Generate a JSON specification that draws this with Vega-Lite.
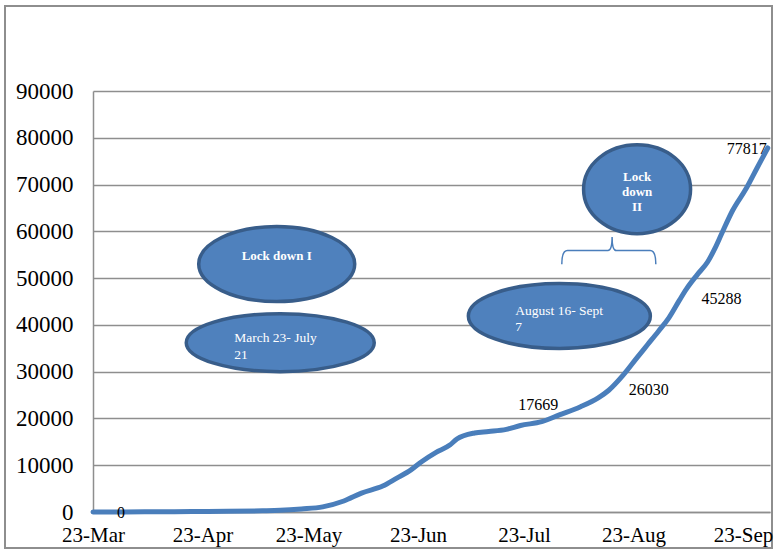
{
  "$schema": "https://vega.github.io/schema/vega-lite/v6.json",
  "autosize": {"type": "none"},
  "padding": {"left": 5, "top": 6, "right": 3, "bottom": 2},
  "width": 767,
  "height": 542,
  "background": "#ffffff",
  "config": {
    "view": {"stroke": "#8e8e8e", "strokeWidth": 2},
    "text": {"font": "Liberation Serif"}
  },
  "datasets": {
    "cases": [
      {"date": "2020-03-23", "value": 0},
      {"date": "2020-04-01", "value": 20},
      {"date": "2020-04-10", "value": 60},
      {"date": "2020-04-20", "value": 100},
      {"date": "2020-04-30", "value": 150},
      {"date": "2020-05-10", "value": 250},
      {"date": "2020-05-15", "value": 350},
      {"date": "2020-05-21", "value": 650},
      {"date": "2020-05-27", "value": 1100},
      {"date": "2020-06-02", "value": 2350},
      {"date": "2020-06-07", "value": 4050},
      {"date": "2020-06-13", "value": 5550},
      {"date": "2020-06-17", "value": 7250},
      {"date": "2020-06-21", "value": 9000},
      {"date": "2020-06-24", "value": 10750},
      {"date": "2020-06-28", "value": 12700},
      {"date": "2020-07-02", "value": 14300},
      {"date": "2020-07-04", "value": 15600},
      {"date": "2020-07-09", "value": 16900},
      {"date": "2020-07-13", "value": 17200},
      {"date": "2020-07-18", "value": 17669},
      {"date": "2020-07-22", "value": 18500},
      {"date": "2020-07-28", "value": 19300},
      {"date": "2020-08-02", "value": 20750},
      {"date": "2020-08-08", "value": 22500},
      {"date": "2020-08-13", "value": 24400},
      {"date": "2020-08-16", "value": 26030},
      {"date": "2020-08-20", "value": 29200},
      {"date": "2020-08-24", "value": 33000},
      {"date": "2020-08-27", "value": 35800},
      {"date": "2020-08-30", "value": 38600},
      {"date": "2020-09-02", "value": 41500},
      {"date": "2020-09-05", "value": 45288},
      {"date": "2020-09-07", "value": 47700},
      {"date": "2020-09-10", "value": 50700},
      {"date": "2020-09-13", "value": 53500},
      {"date": "2020-09-15", "value": 56300},
      {"date": "2020-09-17", "value": 59600},
      {"date": "2020-09-20", "value": 64400},
      {"date": "2020-09-24", "value": 69300},
      {"date": "2020-09-27", "value": 73600},
      {"date": "2020-09-30", "value": 77817}
    ],
    "notes": [
      {"id": "lock1", "date": "2020-05-14", "value": 53000, "text": "Lock down I"},
      {"id": "period1", "date": "2020-05-15", "value": 36200, "text": "March 23- July\n21"},
      {"id": "lock2", "date": "2020-08-24", "value": 69000, "text": "Lock\ndown\nII"},
      {"id": "period2", "date": "2020-08-02", "value": 41900, "text": "August 16- Sept\n7"},
      {"id": "brace", "date": "2020-08-16", "value": 55900, "text": ""}
    ]
  },
  "encoding": {
    "x": {
      "field": "date",
      "type": "temporal",
      "scale": {
        "type": "utc",
        "domain": [
          {"year": 2020, "month": 3, "date": 23, "utc": true},
          {"year": 2020, "month": 9, "date": 30, "hours": 15, "utc": true}
        ],
        "range": [88, 765]
      },
      "axis": {
        "title": null,
        "offset": -36,
        "grid": false,
        "ticks": false,
        "domainColor": "#8e8e8e",
        "domainWidth": 1.5,
        "format": "%d-%b",
        "values": [
          {"year": 2020, "month": 3, "date": 23, "utc": true},
          {"year": 2020, "month": 4, "date": 23, "utc": true},
          {"year": 2020, "month": 5, "date": 23, "utc": true},
          {"year": 2020, "month": 6, "date": 23, "utc": true},
          {"year": 2020, "month": 7, "date": 23, "utc": true},
          {"year": 2020, "month": 8, "date": 23, "utc": true},
          {"year": 2020, "month": 9, "date": 23, "utc": true}
        ],
        "labelFont": "Liberation Serif",
        "labelFontSize": 21,
        "labelColor": "#000000",
        "labelPadding": 12,
        "labelOverlap": false,
        "labelFlush": false
      }
    },
    "y": {
      "field": "value",
      "type": "quantitative",
      "scale": {"domain": [0, 90000], "range": [506, 85], "nice": false, "zero": true},
      "axis": {
        "title": null,
        "offset": -88,
        "values": [0, 10000, 20000, 30000, 40000, 50000, 60000, 70000, 80000, 90000],
        "format": "d",
        "grid": true,
        "gridColor": "#8e8e8e",
        "gridWidth": 1.5,
        "ticks": false,
        "domainColor": "#8e8e8e",
        "domainWidth": 1.5,
        "labelFont": "Liberation Serif",
        "labelFontSize": 23,
        "labelColor": "#000000",
        "labelPadding": 20,
        "labelFlush": false
      }
    }
  },
  "layer": [
    {
      "data": {"name": "cases"},
      "mark": {"type": "line", "color": "#4A7EBB", "strokeWidth": 5, "interpolate": "monotone", "strokeCap": "round", "strokeJoin": "round", "clip": false}
    },
    {
      "data": {"name": "notes"},
      "transform": [{"filter": "datum.id === 'lock1'"}],
      "mark": {"type": "point", "shape": "M -1 0 C -1 -0.2657 -0.5523 -0.481 0 -0.481 C 0.5523 -0.481 1 -0.2657 1 0 C 1 0.2657 0.5523 0.481 0 0.481 C -0.5523 0.481 -1 0.2657 -1 0 Z", "size": 24336, "filled": true, "color": "#4F81BD", "stroke": "#385D8A", "strokeWidth": 3.5, "opacity": 1}
    },
    {
      "data": {"name": "notes"},
      "transform": [{"filter": "datum.id === 'period1'"}],
      "mark": {"type": "point", "shape": "M -1 0 C -1 -0.1704 -0.5523 -0.3085 0 -0.3085 C 0.5523 -0.3085 1 -0.1704 1 0 C 1 0.1704 0.5523 0.3085 0 0.3085 C -0.5523 0.3085 -1 0.1704 -1 0 Z", "size": 35344, "filled": true, "color": "#4F81BD", "stroke": "#385D8A", "strokeWidth": 3.5, "opacity": 1}
    },
    {
      "data": {"name": "notes"},
      "transform": [{"filter": "datum.id === 'lock2'"}],
      "mark": {"type": "point", "shape": "M -1 0 C -1 -0.4595 -0.5523 -0.832 0 -0.832 C 0.5523 -0.832 1 -0.4595 1 0 C 1 0.4595 0.5523 0.832 0 0.832 C -0.5523 0.832 -1 0.4595 -1 0 Z", "size": 11449, "filled": true, "color": "#4F81BD", "stroke": "#385D8A", "strokeWidth": 3.5, "opacity": 1}
    },
    {
      "data": {"name": "notes"},
      "transform": [{"filter": "datum.id === 'period2'"}],
      "mark": {"type": "point", "shape": "M -1 0 C -1 -0.1972 -0.5523 -0.357 0 -0.357 C 0.5523 -0.357 1 -0.1972 1 0 C 1 0.1972 0.5523 0.357 0 0.357 C -0.5523 0.357 -1 0.1972 -1 0 Z", "size": 33124, "filled": true, "color": "#4F81BD", "stroke": "#385D8A", "strokeWidth": 3.5, "opacity": 1}
    },
    {
      "data": {"name": "notes"},
      "transform": [{"filter": "datum.id === 'brace'"}],
      "mark": {"type": "point", "shape": "M -1 0.29 Q -1 0 -0.88 0 L -0.02 0 Q 0.07 0 0.07 -0.29 Q 0.07 0 0.16 0 L 0.88 0 Q 1 0 1 0.29", "size": 8836, "filled": false, "stroke": "#4A7EBB", "strokeWidth": 1.5, "opacity": 1}
    },
    {
      "data": {"name": "notes"},
      "transform": [{"filter": "datum.id === 'lock1'"}],
      "mark": {"type": "text", "fontSize": 13, "fontWeight": "bold", "color": "#ffffff", "align": "center", "baseline": "middle", "dy": -8},
      "encoding": {"text": {"field": "text"}}
    },
    {
      "data": {"name": "notes"},
      "transform": [{"filter": "datum.id === 'period1'"}],
      "mark": {"type": "text", "fontSize": 13.5, "color": "#ffffff", "align": "left", "baseline": "middle", "dx": -46, "dy": -4.5, "lineBreak": "\n", "lineHeight": 16.5},
      "encoding": {"text": {"field": "text"}}
    },
    {
      "data": {"name": "notes"},
      "transform": [{"filter": "datum.id === 'lock2'"}],
      "mark": {"type": "text", "fontSize": 13, "fontWeight": "bold", "color": "#ffffff", "align": "center", "baseline": "middle", "dy": -12, "lineBreak": "\n", "lineHeight": 15},
      "encoding": {"text": {"field": "text"}}
    },
    {
      "data": {"name": "notes"},
      "transform": [{"filter": "datum.id === 'period2'"}],
      "mark": {"type": "text", "fontSize": 13.5, "color": "#ffffff", "align": "left", "baseline": "middle", "dx": -44, "dy": -5, "lineBreak": "\n", "lineHeight": 15.5},
      "encoding": {"text": {"field": "text"}}
    },
    {
      "data": {"name": "cases"},
      "transform": [{"filter": "datum.value === 0"}],
      "mark": {"type": "text", "fontSize": 16, "color": "#000000", "align": "left", "baseline": "middle", "dx": 24, "dy": 1},
      "encoding": {"text": {"field": "value", "type": "quantitative", "format": "d"}}
    },
    {
      "data": {"name": "cases"},
      "transform": [{"filter": "datum.value === 17669"}],
      "mark": {"type": "text", "fontSize": 16, "color": "#000000", "align": "left", "baseline": "middle", "dx": 12, "dy": -24},
      "encoding": {"text": {"field": "value", "type": "quantitative", "format": "d"}}
    },
    {
      "data": {"name": "cases"},
      "transform": [{"filter": "datum.value === 26030"}],
      "mark": {"type": "text", "fontSize": 16, "color": "#000000", "align": "left", "baseline": "middle", "dx": 20, "dy": 0},
      "encoding": {"text": {"field": "value", "type": "quantitative", "format": "d"}}
    },
    {
      "data": {"name": "cases"},
      "transform": [{"filter": "datum.value === 45288"}],
      "mark": {"type": "text", "fontSize": 16, "color": "#000000", "align": "left", "baseline": "middle", "dx": 22, "dy": -1},
      "encoding": {"text": {"field": "value", "type": "quantitative", "format": "d"}}
    },
    {
      "data": {"name": "cases"},
      "transform": [{"filter": "datum.value === 77817"}],
      "mark": {"type": "text", "fontSize": 16, "color": "#000000", "align": "right", "baseline": "middle", "dx": -1, "dy": 1},
      "encoding": {"text": {"field": "value", "type": "quantitative", "format": "d"}}
    }
  ]
}
